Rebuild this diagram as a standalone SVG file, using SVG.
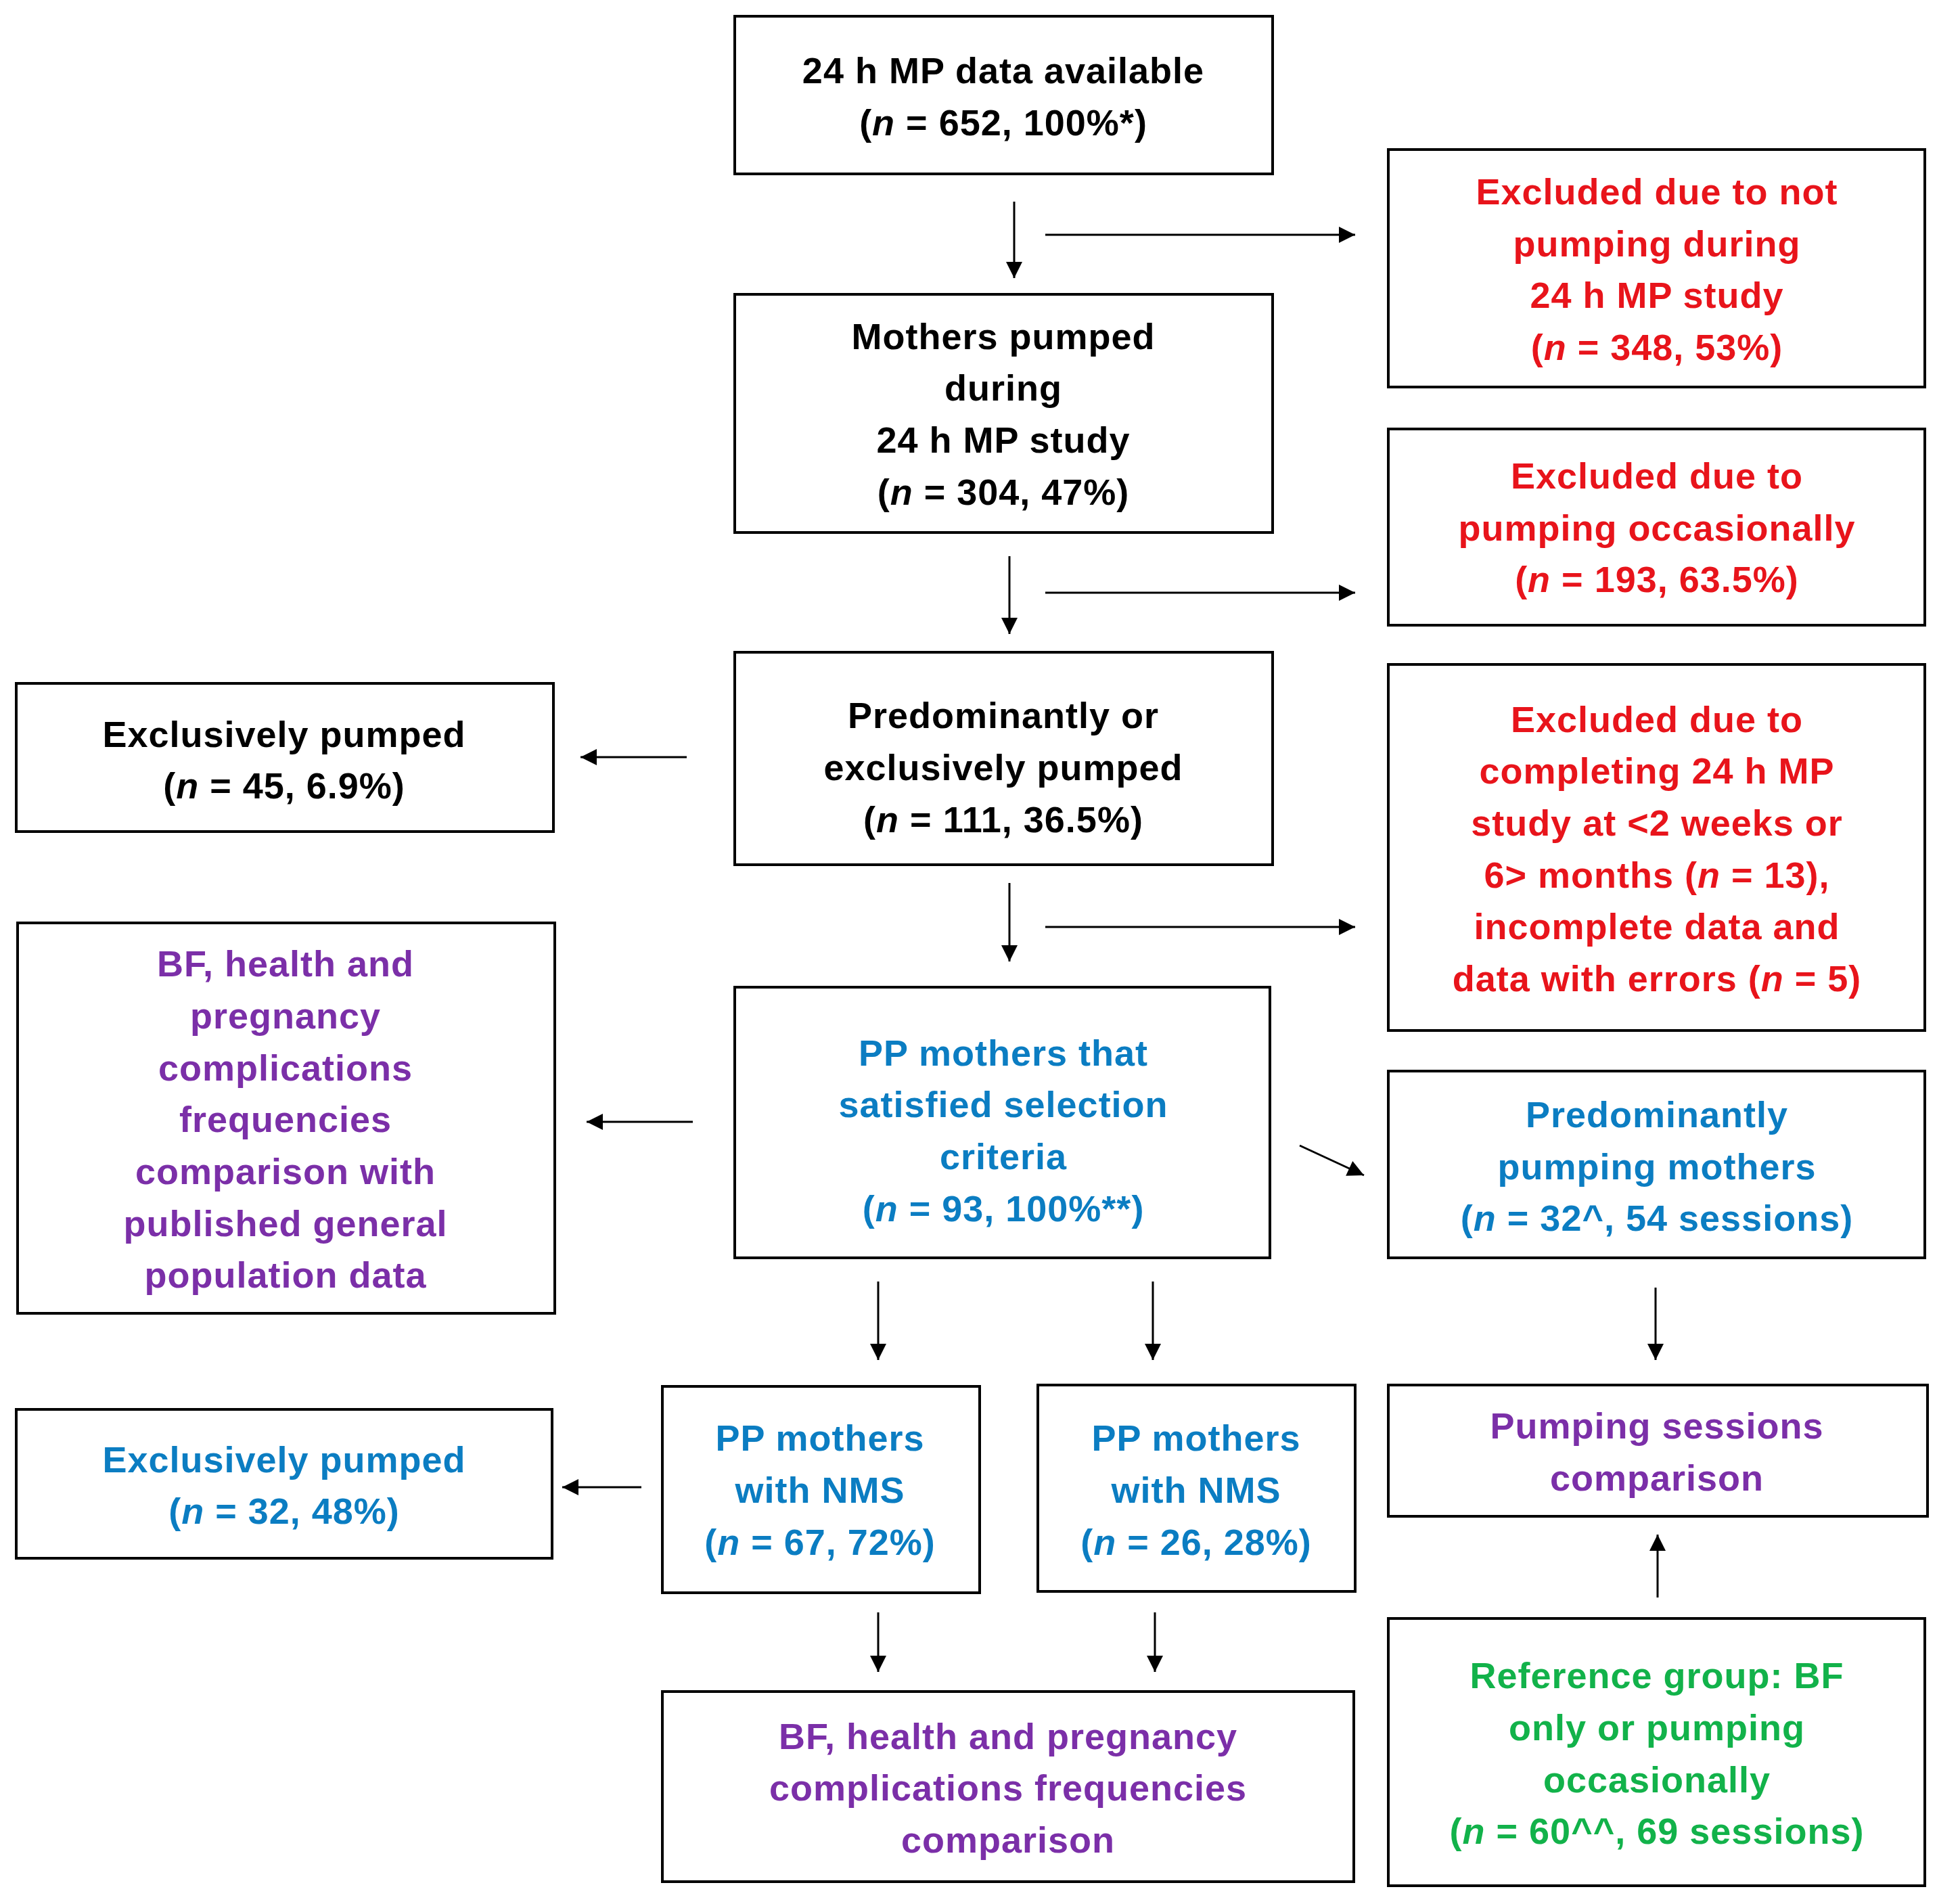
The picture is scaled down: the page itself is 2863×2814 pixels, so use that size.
<svg xmlns="http://www.w3.org/2000/svg" width="2863" height="2814" viewBox="0 0 2863 2814">
<style>
rect{fill:#fff;stroke:#000;stroke-width:4}
text{font-family:"Liberation Sans",Arial,sans-serif;font-weight:bold;font-size:54px;text-anchor:middle;letter-spacing:1px}
.k{fill:#000}.r{fill:#E8141B}.b{fill:#0B7DC2}.p{fill:#7B2FA8}.g{fill:#12B24A}
#connectors line{stroke:#000;stroke-width:3;marker-end:url(#ah)}
</style>
<defs><marker id="ah" markerWidth="10" markerHeight="10" refX="9" refY="5" orient="auto" markerUnits="userSpaceOnUse" viewBox="0 0 10 10"><path d="M0,0 L10,5 L0,10 z" fill="#000" transform="scale(1)"/></marker>
<marker id="ah2" viewBox="0 0 10 10" refX="10" refY="5" markerWidth="28" markerHeight="24" orient="auto" markerUnits="userSpaceOnUse"><path d="M0,0L10,5L0,10z" fill="#000"/></marker></defs>
<style>#connectors line{marker-end:url(#ah2)}</style>
<rect x="0" y="0" width="2863" height="2814" style="stroke:none"/>
<g id="n1"><rect x="1086" y="24" width="795" height="233"/><text class="k" x="1483" y="123">24 h MP data available</text><text class="k" x="1483" y="200">(<tspan font-style="italic">n</tspan> = 652, 100%*)</text></g>
<g id="n2"><rect x="2052" y="221" width="793" height="351"/><text class="r" x="2449" y="302">Excluded due to not</text><text class="r" x="2449" y="379">pumping during</text><text class="r" x="2449" y="455">24 h MP study</text><text class="r" x="2449" y="532">(<tspan font-style="italic">n</tspan> = 348, 53%)</text></g>
<g id="n3"><rect x="1086" y="435" width="795" height="352"/><text class="k" x="1483" y="516">Mothers pumped</text><text class="k" x="1483" y="592">during</text><text class="k" x="1483" y="669">24 h MP study</text><text class="k" x="1483" y="746">(<tspan font-style="italic">n</tspan> = 304, 47%)</text></g>
<g id="n4"><rect x="2052" y="634" width="793" height="290"/><text class="r" x="2449" y="722">Excluded due to</text><text class="r" x="2449" y="799">pumping occasionally</text><text class="r" x="2449" y="875">(<tspan font-style="italic">n</tspan> = 193, 63.5%)</text></g>
<g id="n5"><rect x="1086" y="964" width="795" height="314"/><text class="k" x="1483" y="1076">Predominantly or</text><text class="k" x="1483" y="1153">exclusively pumped</text><text class="k" x="1483" y="1230">(<tspan font-style="italic">n</tspan> = 111, 36.5%)</text></g>
<g id="n6"><rect x="2052" y="982" width="793" height="541"/><text class="r" x="2449" y="1082">Excluded due to</text><text class="r" x="2449" y="1158">completing 24 h MP</text><text class="r" x="2449" y="1235">study at &lt;2 weeks or</text><text class="r" x="2449" y="1312">6&gt; months (<tspan font-style="italic">n</tspan> = 13),</text><text class="r" x="2449" y="1388">incomplete data and</text><text class="r" x="2449" y="1465">data with errors  (<tspan font-style="italic">n</tspan> = 5)</text></g>
<g id="n7"><rect x="24" y="1010" width="794" height="219"/><text class="k" x="420" y="1104">Exclusively pumped</text><text class="k" x="420" y="1180">(<tspan font-style="italic">n</tspan> = 45, 6.9%)</text></g>
<g id="n8"><rect x="26" y="1364" width="794" height="577"/><text class="p" x="422" y="1443">BF, health and</text><text class="p" x="422" y="1520">pregnancy</text><text class="p" x="422" y="1597">complications</text><text class="p" x="422" y="1673">frequencies</text><text class="p" x="422" y="1750">comparison with</text><text class="p" x="422" y="1827">published general</text><text class="p" x="422" y="1903">population data</text></g>
<g id="n9"><rect x="1086" y="1459" width="791" height="400"/><text class="b" x="1483" y="1575">PP mothers that</text><text class="b" x="1483" y="1651">satisfied selection</text><text class="b" x="1483" y="1728">criteria</text><text class="b" x="1483" y="1805">(<tspan font-style="italic">n</tspan> = 93, 100%**)</text></g>
<g id="n10"><rect x="2052" y="1583" width="793" height="276"/><text class="b" x="2449" y="1666">Predominantly</text><text class="b" x="2449" y="1743">pumping mothers</text><text class="b" x="2449" y="1819">(<tspan font-style="italic">n</tspan> = 32^, 54 sessions)</text></g>
<g id="n11"><rect x="24" y="2083" width="792" height="220"/><text class="b" x="420" y="2176">Exclusively pumped</text><text class="b" x="420" y="2252">(<tspan font-style="italic">n</tspan> = 32, 48%)</text></g>
<g id="n12"><rect x="979" y="2049" width="469" height="305"/><text class="b" x="1212" y="2144">PP mothers</text><text class="b" x="1212" y="2221">with NMS</text><text class="b" x="1212" y="2298">(<tspan font-style="italic">n</tspan> = 67, 72%)</text></g>
<g id="n13"><rect x="1534" y="2047" width="469" height="305"/><text class="b" x="1768" y="2144">PP mothers</text><text class="b" x="1768" y="2221">with NMS</text><text class="b" x="1768" y="2298">(<tspan font-style="italic">n</tspan> = 26, 28%)</text></g>
<g id="n14"><rect x="2052" y="2047" width="797" height="194"/><text class="p" x="2449" y="2126">Pumping sessions</text><text class="p" x="2449" y="2203">comparison</text></g>
<g id="n15"><rect x="979" y="2500" width="1022" height="281"/><text class="p" x="1490" y="2585">BF, health and pregnancy</text><text class="p" x="1490" y="2661">complications frequencies</text><text class="p" x="1490" y="2738">comparison</text></g>
<g id="n16"><rect x="2052" y="2392" width="793" height="395"/><text class="g" x="2449" y="2495">Reference group: BF</text><text class="g" x="2449" y="2572">only or pumping</text><text class="g" x="2449" y="2649">occasionally</text><text class="g" x="2449" y="2725">(<tspan font-style="italic">n</tspan> = 60^^, 69 sessions)</text></g>
<g id="connectors">
<line x1="1499" y1="298" x2="1499" y2="411"/>
<line x1="1545" y1="347" x2="2003" y2="347"/>
<line x1="1492" y1="822" x2="1492" y2="937"/>
<line x1="1545" y1="876" x2="2003" y2="876"/>
<line x1="1015" y1="1119" x2="858" y2="1119"/>
<line x1="1492" y1="1305" x2="1492" y2="1421"/>
<line x1="1545" y1="1370" x2="2003" y2="1370"/>
<line x1="1024" y1="1658" x2="867" y2="1658"/>
<line x1="1921" y1="1693" x2="2016" y2="1737"/>
<line x1="1298" y1="1894" x2="1298" y2="2010"/>
<line x1="1704" y1="1894" x2="1704" y2="2010"/>
<line x1="2447" y1="1903" x2="2447" y2="2010"/>
<line x1="948" y1="2198" x2="831" y2="2198"/>
<line x1="1298" y1="2383" x2="1298" y2="2471"/>
<line x1="1707" y1="2383" x2="1707" y2="2471"/>
<line x1="2450" y1="2361" x2="2450" y2="2268"/>
</g>
</svg>
